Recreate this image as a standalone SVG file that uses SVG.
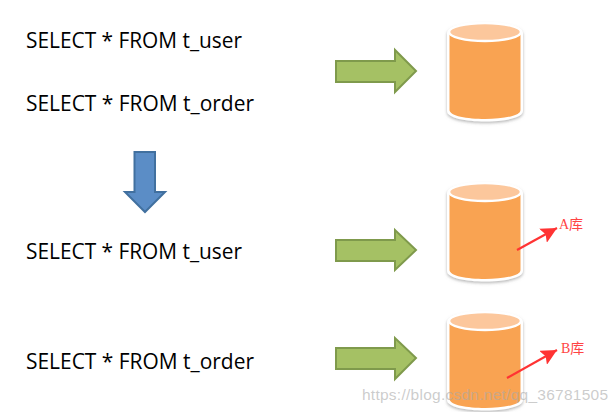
<svg xmlns="http://www.w3.org/2000/svg" width="615" height="412" viewBox="0 0 615 412">
<style>
.sql{font-family:"Open Sans","Noto Sans",sans-serif;font-size:21px;fill:#000}
.green{fill:#a5c164;stroke:#7f9a4c;stroke-width:2}
.blue{fill:#5b8dc6;stroke:#41709f;stroke-width:2}
.rim{fill:#fff;filter:url(#sh)}
.body{fill:#f9a352}
.lid{fill:#fcc79c;stroke:#fff;stroke-width:2.500}
.lab{font-family:"Liberation Serif","Noto Sans CJK SC",serif;font-size:14px;fill:#f44}
.wm{font-family:"Liberation Sans",Arial,sans-serif;font-size:15.500px;fill:#aaa;fill-opacity:.6}
.red{stroke:#f33;stroke-width:2.200;fill:none;marker-end:url(#ah)}
</style>
<defs>
<filter id="sh" x="-15%" y="-15%" width="130%" height="130%"><feDropShadow dx="0" dy="1.500" stdDeviation="1.500" flood-color="#777" flood-opacity=".55"/></filter>
<marker id="ah" markerUnits="userSpaceOnUse" markerWidth="18" markerHeight="16" refX="16" refY="8" orient="auto"><path d="M0 0L16 8L0 16L3 8Z" fill="#f33"/></marker>
<g id="cyl">
<path class="rim" d="M447 33C447 20 523 20 523 33V111C523 125 447 125 447 111Z"/>
<path class="body" d="M449.500 34H520.500V110C520.500 122 449.500 122 449.500 110Z"/>
<ellipse class="lid" cx="485" cy="32" rx="36" ry="9"/>
</g>
</defs>
<rect width="615" height="412" fill="#fff"/>
<g id="sql-texts">
<text id="t1" class="sql" x="26" y="48" textLength="216" lengthAdjust="spacingAndGlyphs">SELECT * FROM t_user</text>
<text id="t2" class="sql" x="26" y="111" textLength="228" lengthAdjust="spacingAndGlyphs">SELECT * FROM t_order</text>
<text id="t3" class="sql" x="26" y="259" textLength="216" lengthAdjust="spacingAndGlyphs">SELECT * FROM t_user</text>
<text id="t4" class="sql" x="26" y="369" textLength="228" lengthAdjust="spacingAndGlyphs">SELECT * FROM t_order</text>
</g>
<g id="db-top"><use href="#cyl"/></g>
<g id="db-a"><use href="#cyl" y="160"/></g>
<g id="db-b"><use href="#cyl" y="289"/></g>
<g id="connectors">
<path class="green" d="M336 61H395V50L416 71L395 92V82H336Z"/>
<path class="green" d="M336 240H395V230L416 250L395 270V261H336Z"/>
<path class="green" d="M336 348H395V338L416 358L395 379V369H336Z"/>
<path class="blue" d="M134.500 152H155V192H165L145 212L125 192H134.500Z"/>
<path class="red" d="M517 250L557 228"/>
<path class="red" d="M507 378L557 350"/>
</g>
<g id="label-a"><text class="lab" x="559" y="229">A库</text></g>
<g id="label-b"><text class="lab" x="561" y="353">B库</text></g>
<text id="wm" class="wm" x="362" y="400" textLength="246">https://blog.csdn.net/qq_36781505</text>
</svg>
